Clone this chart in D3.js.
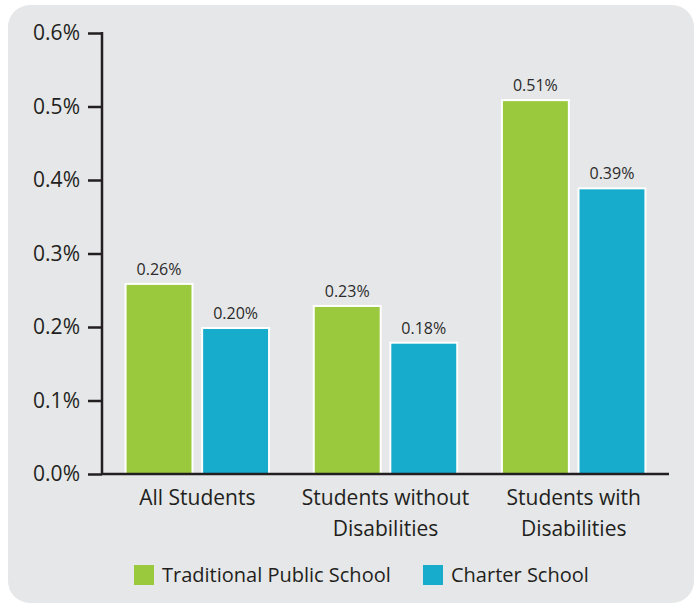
<!DOCTYPE html>
<html>
<head>
<meta charset="utf-8">
<script src="https://cdn.jsdelivr.net/npm/d3@7"></script>
<style>
  body { margin: 0; background: #fff; }
  text { font-family: "Open Sans", sans-serif; fill: #231f20; }
</style>
</head>
<body>
<script>
// data
var categories = [["All Students"], ["Students without", "Disabilities"], ["Students with", "Disabilities"]];
var seriesNames = ["Traditional Public School", "Charter School"];
var traditional = [0.26, 0.23, 0.51];
var charter = [0.20, 0.18, 0.39];
var yTicks = [0, 0.1, 0.2, 0.3, 0.4, 0.5, 0.6];
var colors = ["#9bc93d", "#17abcc"];

var W = 697, H = 604;

var svg = d3.select("body").append("svg")
    .attr("width", W)
    .attr("height", H);

// panel background
svg.append("rect")
    .attr("x", 8).attr("y", 5)
    .attr("width", 686).attr("height", 598)
    .attr("rx", 22)
    .style("fill", "#e6e7e8");

var catKeys = categories.map(function(c) { return c.join(" "); });

var x = d3.scaleBand().domain(catKeys).range([102, 669])
    .paddingInner(0.227).paddingOuter(0.12);
var xs = d3.scaleBand().domain(seriesNames).range([0, x.bandwidth()])
    .paddingInner(0.1);
var y = d3.scaleLinear().domain([0, 0.6]).range([474, 33]);

var data = catKeys.map(function(k, i) {
  return { key: k, values: [traditional[i], charter[i]] };
});

// bars
var groups = svg.selectAll("g.grp").data(data).enter().append("g")
    .attr("class", "grp")
    .attr("transform", function(d) { return "translate(" + x(d.key) + ",0)"; });

groups.selectAll("rect").data(function(d) {
  return d.values.map(function(v, j) { return { s: seriesNames[j], v: v, j: j }; });
}).enter().append("rect")
    .attr("x", function(d) { return xs(d.s) + 1; })
    .attr("y", function(d) { return y(d.v) + 1; })
    .attr("width", xs.bandwidth() - 2)
    .attr("height", function(d) { return y(0) - y(d.v) - 1; })
    .style("fill", function(d) { return colors[d.j]; })
    .style("stroke", "#fff")
    .style("stroke-width", 2);

groups.selectAll("text.val").data(function(d) {
  return d.values.map(function(v, j) { return { s: seriesNames[j], v: v }; });
}).enter().append("text")
    .attr("class", "val")
    .attr("x", function(d) { return xs(d.s) + xs.bandwidth() / 2; })
    .attr("y", function(d) { return y(d.v) - 8; })
    .attr("text-anchor", "middle")
    .style("font-size", "16px")
    .style("fill", "#2b2b2b")
    .text(function(d) { return d.v.toFixed(2) + "%"; });

// y axis
var yAxis = svg.append("g")
    .attr("transform", "translate(102,0)")
    .call(d3.axisLeft(y).tickValues(yTicks).tickSize(14).tickPadding(8)
      .tickFormat(function(d) { return d.toFixed(1) + "%"; }));
yAxis.select(".domain").remove();
yAxis.selectAll("line").style("stroke", "#231f20").style("stroke-width", 2.5);
yAxis.selectAll("text").style("font-size", "21px").style("fill", "#231f20");
svg.append("line")
    .attr("x1", 102).attr("x2", 102)
    .attr("y1", y(0.6) - 1).attr("y2", y(0))
    .style("stroke", "#231f20").style("stroke-width", 2.5);

// x axis
svg.append("line")
    .attr("x1", 102).attr("x2", 669)
    .attr("y1", y(0)).attr("y2", y(0))
    .style("stroke", "#231f20").style("stroke-width", 2.5);

var xl = svg.selectAll("text.cat").data(categories).enter().append("text")
    .attr("class", "cat")
    .attr("text-anchor", "middle")
    .style("font-size", "21px")
    .attr("transform", function(d, i) { return "translate(" + (x(catKeys[i]) + x.bandwidth() / 2) + ",505)"; });
xl.selectAll("tspan").data(function(d) { return d; }).enter().append("tspan")
    .attr("x", 0)
    .attr("dy", function(d, i) { return i === 0 ? 0 : 31; })
    .text(function(d) { return d; });

// legend
var legX = [134, 423];
var leg = svg.selectAll("g.leg").data(seriesNames).enter().append("g")
    .attr("class", "leg")
    .attr("transform", function(d, i) { return "translate(" + legX[i] + ",565)"; });
leg.append("rect")
    .attr("width", 20).attr("height", 20)
    .style("fill", function(d, i) { return colors[i]; });
leg.append("text")
    .attr("x", 28).attr("y", 17)
    .style("font-size", "20px")
    .text(function(d) { return d; });
</script>
</body>
</html>
